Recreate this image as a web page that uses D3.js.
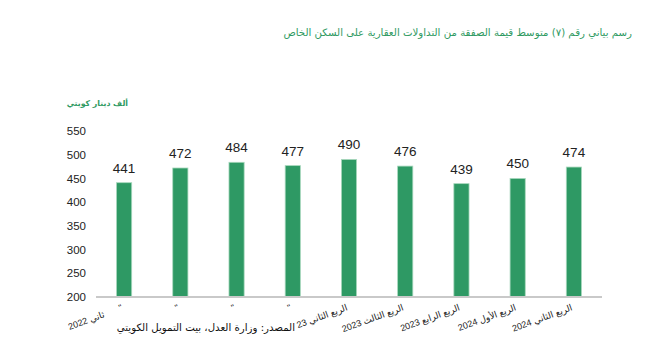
<!DOCTYPE html>
<html>
<head>
<meta charset="utf-8">
<script src="https://cdn.jsdelivr.net/npm/d3@7"></script>
<style>
  body { margin: 0; background: #fff; }
  text { font-family: "Liberation Sans", Arial, "DejaVu Sans", sans-serif; }
</style>
</head>
<body>
<div id="chart-area"></div>
<script>
const quarters = ["q1", "q2", "q3", "q4", "q5", "q6", "q7", "q8", "q9"]
const quarterLabels = ["\"", "\"", "\"", "\"", "الربع الثاني 23", "الربع الثالث 2023", "الربع الرابع 2023", "الربع الأول 2024", "الربع الثاني 2024"]
const avgValue = [441, 472, 484, 477, 490, 476, 439, 450, 474]
const yTicks = [200, 250, 300, 350, 400, 450, 500, 550]

const W = 665, H = 364
const MARGIN = { LEFT: 96, RIGHT: 63, TOP: 131, BOTTOM: 67 }
const WIDTH = W - MARGIN.LEFT - MARGIN.RIGHT
const HEIGHT = H - MARGIN.TOP - MARGIN.BOTTOM
const GREEN = "#2e9964"

const svg = d3.select("#chart-area").append("svg")
  .attr("width", W)
  .attr("height", H)

const g = svg.append("g")
  .attr("transform", `translate(${MARGIN.LEFT}, ${MARGIN.TOP})`)

const xScale = d3.scaleBand()
  .domain(quarters)
  .range([0, WIDTH])
  .paddingInner(0.73)
  .paddingOuter(0.365)

const yScale = d3.scaleLinear()
  .domain([200, 550])
  .range([HEIGHT, 0])

// y axis labels only, no line
const yAxis = g.append("g")
  .call(d3.axisLeft(yScale).tickValues(yTicks).tickSize(0).tickPadding(10))
yAxis.select(".domain").remove()
yAxis.selectAll("text")
  .attr("font-size", "11.5px")
  .attr("fill", "#222")
  .style("font-family", "'Liberation Sans', Arial, sans-serif")

// bars
g.selectAll("rect.bar")
  .data(avgValue)
  .enter().append("rect")
  .attr("class", "bar")
  .attr("x", (d, i) => xScale(quarters[i]))
  .attr("y", d => yScale(d))
  .attr("width", xScale.bandwidth())
  .attr("height", d => HEIGHT - yScale(d))
  .attr("fill", GREEN)
  .attr("stroke", "#a8d8bd")
  .attr("stroke-width", 0.8)

// baseline
g.append("line")
  .attr("x1", 0).attr("x2", WIDTH)
  .attr("y1", HEIGHT).attr("y2", HEIGHT)
  .attr("stroke", "#c9c9c9")
  .attr("stroke-width", 2)

// value labels
g.selectAll("text.val")
  .data(avgValue)
  .enter().append("text")
  .attr("class", "val")
  .attr("x", (d, i) => xScale(quarters[i]) + xScale.bandwidth() / 2)
  .attr("y", d => yScale(d) - 10)
  .attr("text-anchor", "middle")
  .attr("font-size", "13.5px")
  .attr("fill", "#222")
  .text(d => d)

// category labels, rotated (rtl: start = right edge)
g.selectAll("text.cat")
  .data(quarterLabels)
  .enter().append("text")
  .attr("class", "cat")
  .attr("transform", (d, i) => {
    const cx = xScale(quarters[i]) + xScale.bandwidth() / 2
    return `translate(${cx - 1}, ${HEIGHT + 13}) rotate(-20)`
  })
  .attr("text-anchor", "start")
  .attr("direction", "rtl")
  .attr("font-size", "9px")
  .attr("fill", "#222")
  .text(d => d)

// leftover part of the first label
g.append("text")
  .attr("transform", `translate(9, ${HEIGHT + 20}) rotate(-20)`)
  .attr("text-anchor", "start")
  .attr("direction", "rtl")
  .attr("font-size", "9px")
  .attr("fill", "#222")
  .text("ثاني 2022")

// title
svg.append("text")
  .attr("x", 632)
  .attr("y", 36)
  .attr("text-anchor", "end")
  .attr("font-size", "10.2px")
  .attr("fill", "#2f9a62")
  .style("font-family", "'DejaVu Sans', sans-serif")
  .text("رسم بياني رقم (٧) متوسط قيمة الصفقة من التداولات العقارية على السكن الخاص")

// unit
svg.append("text")
  .attr("x", 128)
  .attr("y", 106)
  .attr("text-anchor", "end")
  .attr("font-size", "7.8px")
  .attr("font-weight", "bold")
  .attr("fill", "#2f9a62")
  .style("font-family", "'DejaVu Sans', sans-serif")
  .text("ألف دينار كويتي")

// source
svg.append("text")
  .attr("x", 295)
  .attr("y", 331)
  .attr("text-anchor", "end")
  .attr("font-size", "10.2px")
  .attr("fill", "#111")
  .style("font-family", "'DejaVu Sans', sans-serif")
  .text("المصدر: وزارة العدل، بيت التمويل الكويتي")
</script>
</body>
</html>
